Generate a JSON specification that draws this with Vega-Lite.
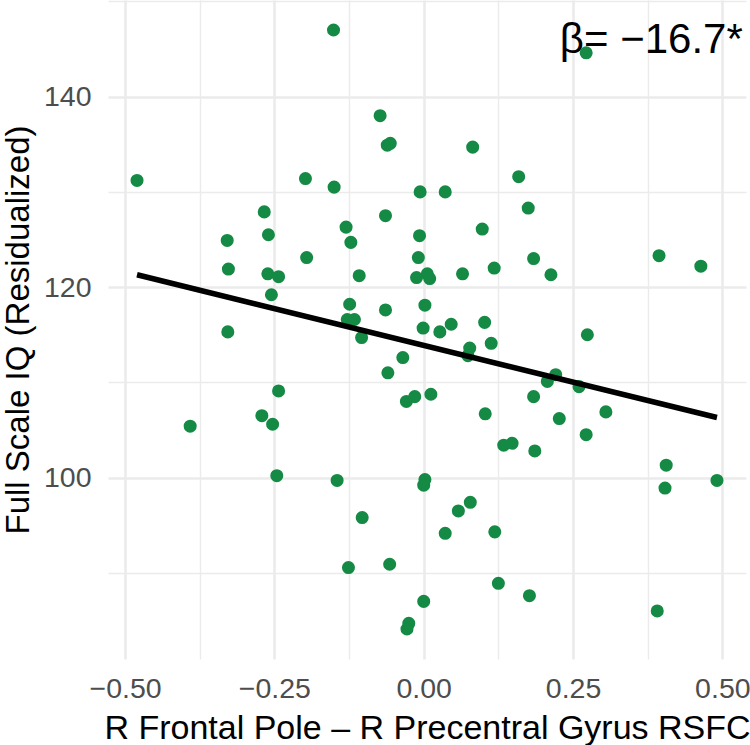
{
  "$schema": "https://vega.github.io/schema/vega-lite/v6.json",
  "autosize": {"type": "none"},
  "padding": {"left": 108, "top": 0, "right": 4, "bottom": 86},
  "width": 638,
  "height": 659,
  "background": "white",
  "config": {
    "view": {"stroke": null},
    "font": "Liberation Sans",
    "axis": {
      "domain": false,
      "ticks": false,
      "gridColor": "#EBEBEB",
      "labelColor": "#4D4D4D",
      "labelFont": "Liberation Sans",
      "titleFont": "Liberation Sans",
      "titleColor": "#000000",
      "titleFontWeight": "normal",
      "labelOverlap": false,
      "labelFlush": false
    }
  },
  "datasets": {
    "points": [
      {"rsfc": -0.480, "iq": 131.2}, {"rsfc": -0.151, "iq": 147.0}, {"rsfc": -0.198, "iq": 131.4},
      {"rsfc": -0.150, "iq": 130.5}, {"rsfc": -0.267, "iq": 127.9}, {"rsfc": -0.329, "iq": 124.9},
      {"rsfc": -0.260, "iq": 125.5}, {"rsfc": -0.130, "iq": 126.3}, {"rsfc": -0.122, "iq": 124.7},
      {"rsfc": -0.196, "iq": 123.1}, {"rsfc": -0.327, "iq": 121.9}, {"rsfc": -0.261, "iq": 121.4},
      {"rsfc": -0.243, "iq": 121.1}, {"rsfc": -0.108, "iq": 121.2}, {"rsfc": -0.255, "iq": 119.2},
      {"rsfc": -0.124, "iq": 118.2}, {"rsfc": -0.128, "iq": 116.6}, {"rsfc": -0.116, "iq": 116.6},
      {"rsfc": -0.328, "iq": 115.3}, {"rsfc": -0.104, "iq": 114.7}, {"rsfc": -0.073, "iq": 138.0},
      {"rsfc": 0.272, "iq": 144.6}, {"rsfc": -0.061, "iq": 134.9}, {"rsfc": -0.056, "iq": 135.1},
      {"rsfc": 0.082, "iq": 134.7}, {"rsfc": 0.159, "iq": 131.6}, {"rsfc": -0.006, "iq": 130.0},
      {"rsfc": 0.036, "iq": 130.0}, {"rsfc": 0.175, "iq": 128.3}, {"rsfc": -0.064, "iq": 127.5},
      {"rsfc": 0.098, "iq": 126.1}, {"rsfc": -0.007, "iq": 125.4}, {"rsfc": -0.009, "iq": 123.1},
      {"rsfc": 0.184, "iq": 123.0}, {"rsfc": 0.394, "iq": 123.3}, {"rsfc": 0.464, "iq": 122.2},
      {"rsfc": -0.012, "iq": 121.0}, {"rsfc": 0.006, "iq": 121.4}, {"rsfc": 0.010, "iq": 120.9},
      {"rsfc": 0.065, "iq": 121.4}, {"rsfc": 0.118, "iq": 122.0}, {"rsfc": 0.213, "iq": 121.3},
      {"rsfc": -0.064, "iq": 117.6}, {"rsfc": 0.002, "iq": 118.1}, {"rsfc": -0.001, "iq": 115.7},
      {"rsfc": 0.027, "iq": 115.3}, {"rsfc": 0.046, "iq": 116.1}, {"rsfc": 0.102, "iq": 116.3},
      {"rsfc": 0.077, "iq": 113.6}, {"rsfc": 0.074, "iq": 112.8}, {"rsfc": 0.113, "iq": 114.1},
      {"rsfc": 0.274, "iq": 115.0}, {"rsfc": -0.035, "iq": 112.6}, {"rsfc": -0.060, "iq": 111.0},
      {"rsfc": 0.221, "iq": 110.8}, {"rsfc": 0.207, "iq": 110.1}, {"rsfc": 0.260, "iq": 109.55},
      {"rsfc": 0.184, "iq": 108.5}, {"rsfc": -0.029, "iq": 108.0}, {"rsfc": -0.015, "iq": 108.5},
      {"rsfc": 0.012, "iq": 108.75}, {"rsfc": 0.305, "iq": 106.9}, {"rsfc": 0.103, "iq": 106.7},
      {"rsfc": 0.227, "iq": 106.2}, {"rsfc": 0.272, "iq": 104.5}, {"rsfc": 0.134, "iq": 103.4},
      {"rsfc": 0.148, "iq": 103.6}, {"rsfc": 0.186, "iq": 102.8}, {"rsfc": 0.406, "iq": 101.3},
      {"rsfc": 0.404, "iq": 98.9}, {"rsfc": 0.491, "iq": 99.7}, {"rsfc": 0.002, "iq": 99.8},
      {"rsfc": 0.000, "iq": 99.2}, {"rsfc": 0.078, "iq": 97.4}, {"rsfc": 0.058, "iq": 96.5},
      {"rsfc": 0.036, "iq": 94.15}, {"rsfc": 0.119, "iq": 94.3}, {"rsfc": -0.057, "iq": 90.9},
      {"rsfc": 0.125, "iq": 88.9}, {"rsfc": 0.177, "iq": 87.6}, {"rsfc": 0.000, "iq": 87.0},
      {"rsfc": 0.391, "iq": 86.0}, {"rsfc": -0.025, "iq": 84.7}, {"rsfc": -0.028, "iq": 84.1},
      {"rsfc": -0.243, "iq": 109.1}, {"rsfc": -0.391, "iq": 105.4}, {"rsfc": -0.271, "iq": 106.5},
      {"rsfc": -0.253, "iq": 105.6}, {"rsfc": -0.246, "iq": 100.2}, {"rsfc": -0.145, "iq": 99.7},
      {"rsfc": -0.103, "iq": 95.8}, {"rsfc": -0.126, "iq": 90.55}
    ],
    "fit": [
      {"rsfc": -0.480, "iq": 121.3},
      {"rsfc": 0.491, "iq": 106.3}
    ],
    "label": [
      {"rsfc": 0.381, "iq": 144.6, "text": "β= −16.7*"}
    ]
  },
  "encoding": {
    "x": {
      "field": "rsfc",
      "type": "quantitative",
      "scale": {"domain": [-0.5286, 0.5396], "nice": false, "zero": false},
      "axis": {
        "title": "R Frontal Pole – R Precentral Gyrus RSFC",
        "values": [-0.5, -0.375, -0.25, -0.125, 0, 0.125, 0.25, 0.375, 0.5],
        "labelExpr": "abs(datum.value * 4 - round(datum.value * 4)) > 0.01 ? '' : format(datum.value, '.2f')",
        "gridWidth": {"condition": {"test": "abs(datum.value * 4 - round(datum.value * 4)) > 0.01", "value": 1.4}, "value": 2.6},
        "labelFontSize": 28.5,
        "labelPadding": 15,
        "titleFontSize": 34,
        "titlePadding": 9
      }
    },
    "y": {
      "field": "iq",
      "type": "quantitative",
      "scale": {"domain": [80.95, 150.15], "nice": false, "zero": false},
      "axis": {
        "title": "Full Scale IQ (Residualized)",
        "values": [90, 100, 110, 120, 130, 140, 150],
        "labelExpr": "datum.value % 20 !== 0 ? '' : format(datum.value, 'd')",
        "gridWidth": {"condition": {"test": "datum.value % 20 !== 0", "value": 1.4}, "value": 2.6},
        "labelFontSize": 28.5,
        "labelPadding": 17,
        "titleFontSize": 33,
        "titlePadding": 8
      }
    }
  },
  "layer": [
    {
      "data": {"name": "label"},
      "mark": {"type": "text", "fontSize": 42, "font": "Liberation Sans", "align": "center", "baseline": "alphabetic", "color": "#000000"},
      "encoding": {"text": {"field": "text"}}
    },
    {
      "data": {"name": "points"},
      "mark": {"type": "circle", "size": 170, "opacity": 1, "color": "#148A45"}
    },
    {
      "data": {"name": "fit"},
      "mark": {"type": "line", "color": "#000000", "strokeWidth": 5.6, "strokeCap": "butt"}
    }
  ]
}
